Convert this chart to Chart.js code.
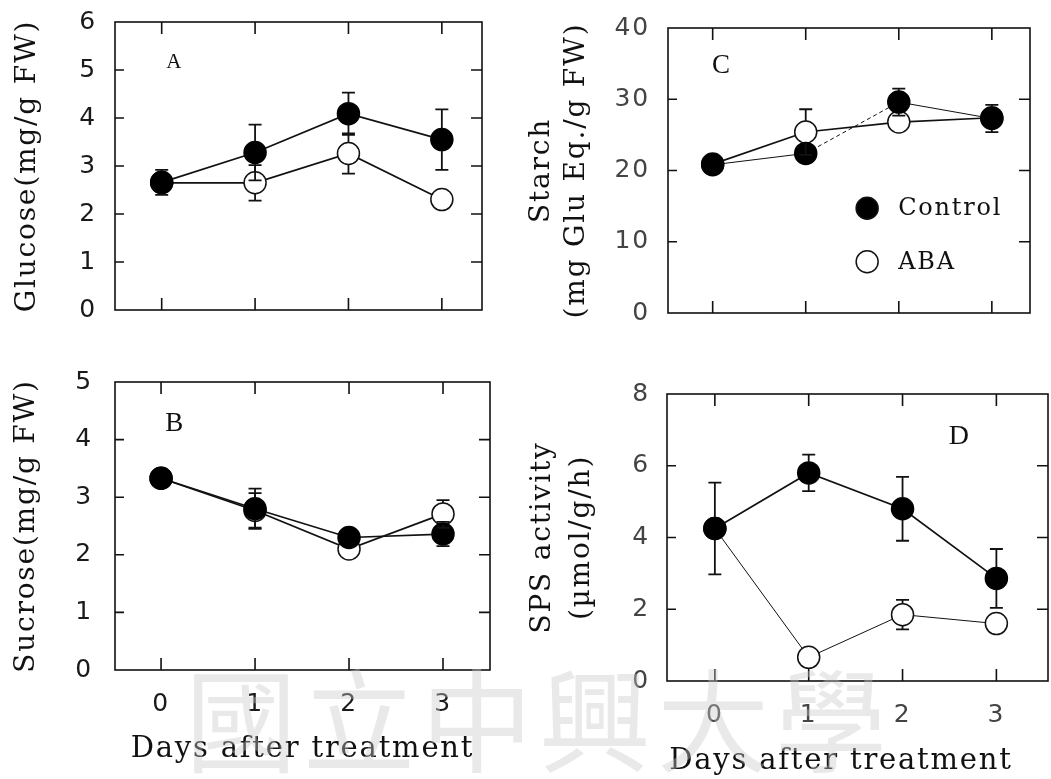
<!DOCTYPE html>
<html>
<head>
<meta charset="utf-8">
<script src="https://cdn.jsdelivr.net/npm/chart.js@4.4.1/dist/chart.umd.min.js"></script>
<style>
  body { margin: 0; background: #fff; }
  #page { position: relative; width: 1051px; height: 779px; overflow: hidden; }
  canvas { position: absolute; }
  .wm {
    position: absolute; left: 185px; top: 634px;
    font: 112px "Noto Sans CJK TC"; letter-spacing: 6px;
    color: rgba(200, 200, 200, 0.4); white-space: nowrap; pointer-events: none;
  }
</style>
</head>
<body>
<div id="page">
  <canvas id="chartA" width="500" height="330" style="left:0;top:0"></canvas>
  <canvas id="chartC" width="531" height="330" style="left:520px;top:0"></canvas>
  <canvas id="chartB" width="500" height="439" style="left:0;top:340px"></canvas>
  <canvas id="chartD" width="531" height="439" style="left:520px;top:340px"></canvas>
  <div class="wm">國立中興大學</div>
</div>
<script>
// Dias após o tratamento (eixo x comum)
const days = [0, 1, 2, 3];

// Painel A - glicose
const glucoseControl = [2.66, 3.28, 4.09, 3.55];
const glucoseControlErr = [0.26, 0.58, 0.44, 0.63];
const glucoseAba = [2.65, 2.65, 3.26, 2.30];
const glucoseAbaErr = [0.12, 0.37, 0.42, 0.08];

// Painel B - sacarose
const sucroseControl = [3.33, 2.80, 2.30, 2.36];
const sucroseControlErr = [0.08, 0.35, 0.12, 0.21];
const sucroseAba = [3.33, 2.77, 2.10, 2.71];
const sucroseAbaErr = [0.08, 0.30, 0.08, 0.24];

// Painel C - amido
const starchControl = [20.8, 22.4, 29.6, 27.3];
const starchControlErr = [0.8, 1.0, 1.9, 1.9];
const starchAba = [20.9, 25.4, 26.8, 27.4];
const starchAbaErr = [0.8, 3.2, 1.2, 1.0];

// Painel D - atividade SPS
const spsControl = [4.25, 5.80, 4.80, 2.86];
const spsControlErr = [1.28, 0.51, 0.89, 0.82];
const spsAba = [4.25, 0.66, 1.85, 1.60];
const spsAbaErr = [0.30, 0.31, 0.41, 0.33];

const seriesNames = ['Control', 'ABA'];

const titleFont = "'DejaVu Serif', serif";
const tickFont = "'DejaVu Sans', sans-serif";
const serifFont = "'Liberation Serif', 'Times New Roman', serif";

const toPoints = vals => days.map((d, i) => ({ x: d, y: vals[i] }));

/**
 * Espaçamento de letras largo, como na fonte de máquina de escrever do original.
 */
const spacingPlugin = {
    id: 'spacing',
    beforeDraw(chart) {
        chart.ctx.letterSpacing = '1.8px';
    }
};

/**
 * Moldura do gráfico com marcas de escala voltadas para dentro.
 */
const framePlugin = {
    id: 'frame',
    beforeDatasetsDraw(chart) {
        const { ctx, chartArea: a, scales: { x, y } } = chart;
        ctx.save();
        ctx.strokeStyle = '#111';
        ctx.lineWidth = 1.6;
        ctx.strokeRect(a.left, a.top, a.width, a.height);
        ctx.beginPath();
        y.ticks.forEach(t => {
            const p = y.getPixelForValue(t.value);
            if (p <= a.top + 1 || p >= a.bottom - 1) return;
            ctx.moveTo(a.left, p); ctx.lineTo(a.left + 9, p);
            ctx.moveTo(a.right, p); ctx.lineTo(a.right - 11, p);
        });
        x.ticks.forEach(t => {
            const p = x.getPixelForValue(t.value);
            ctx.moveTo(p, a.bottom); ctx.lineTo(p, a.bottom - 12);
            ctx.moveTo(p, a.top); ctx.lineTo(p, a.top + 12);
        });
        ctx.stroke();
        ctx.restore();
    }
};

/**
 * Barras de erro desenhadas a partir da borda de cada marcador.
 */
const errorBarPlugin = {
    id: 'errorBars',
    afterDatasetsDraw(chart) {
        const { ctx, scales: { y } } = chart;
        chart.data.datasets.forEach((ds, i) => {
            const meta = chart.getDatasetMeta(i);
            meta.data.forEach((pt, j) => {
                const e = ds.err[j];
                if (!e) return;
                const v = ds.data[j].y;
                const r = ds.pointRadius;
                const ends = [y.getPixelForValue(v + e), y.getPixelForValue(v - e)];
                ctx.save();
                ctx.strokeStyle = '#111';
                ctx.lineWidth = 1.8;
                ends.forEach((end, k) => {
                    if (Math.abs(end - pt.y) <= r + 1) return;
                    const edge = k === 0 ? pt.y - r : pt.y + r;
                    ctx.beginPath();
                    ctx.moveTo(pt.x, edge); ctx.lineTo(pt.x, end);
                    ctx.moveTo(pt.x - 6.5, end); ctx.lineTo(pt.x + 6.5, end);
                    ctx.stroke();
                });
                ctx.restore();
            });
        });
    }
};

/**
 * Letra do painel (A, B, C, D) e legenda opcional, em coordenadas de dados.
 */
const annotationPlugin = {
    id: 'panelNotes',
    afterDraw(chart, args, opts) {
        const { ctx, scales: { x, y } } = chart;
        ctx.save();
        ctx.fillStyle = '#111';
        ctx.textAlign = 'center';
        ctx.textBaseline = 'middle';
        ctx.font = opts.letterFont;
        ctx.fillText(opts.letter, x.getPixelForValue(opts.at[0]), y.getPixelForValue(opts.at[1]));
        if (opts.legend) {
            ctx.font = '24px ' + titleFont;
            ctx.textAlign = 'left';
            chart.data.datasets.forEach((ds, i) => {
                const px = x.getPixelForValue(opts.legend.x);
                const py = y.getPixelForValue(opts.legend.y[i]);
                ctx.beginPath();
                ctx.arc(px, py, ds.pointRadius, 0, Math.PI * 2);
                ctx.fillStyle = ds.pointBackgroundColor;
                ctx.fill();
                ctx.lineWidth = ds.pointBorderWidth;
                ctx.strokeStyle = '#111';
                ctx.stroke();
                ctx.fillStyle = '#111';
                ctx.fillText(ds.label, px + 31, py + 1);
            });
        }
        ctx.restore();
    }
};

function makeDatasets(control, controlErr, aba, abaErr, extra) {
    extra = extra || {};
    return [
        Object.assign({
            label: seriesNames[0],
            data: toPoints(control),
            err: controlErr,
            borderColor: '#111',
            borderWidth: 1.7,
            pointRadius: 11,
            pointBackgroundColor: '#000',
            pointBorderColor: '#000',
            pointBorderWidth: 1.5
        }, extra.control),
        Object.assign({
            label: seriesNames[1],
            data: toPoints(aba),
            err: abaErr,
            borderColor: '#111',
            borderWidth: 1.7,
            pointRadius: 11,
            pointBackgroundColor: '#fff',
            pointBorderColor: '#111',
            pointBorderWidth: 1.5
        }, extra.aba)
    ];
}

// Zera as margens automáticas que o Chart.js reserva para os rótulos
function noPadding(s) {
    s.paddingTop = 0;
    s.paddingBottom = 0;
    s.paddingLeft = 0;
    s.paddingRight = 0;
}

/**
 * Cria um painel com geometria fixa (largura do eixo y, altura do eixo x, margens).
 */
function makePanel(id, cfg) {
    new Chart(document.getElementById(id), {
        type: 'line',
        data: { datasets: cfg.datasets },
        plugins: [spacingPlugin, framePlugin, errorBarPlugin, annotationPlugin],
        options: {
            responsive: false,
            animation: false,
            layout: {
                autoPadding: false,
                padding: { top: cfg.padTop, right: cfg.padRight, left: 0, bottom: 0 }
            },
            plugins: {
                legend: { display: false },
                tooltip: { enabled: false },
                panelNotes: cfg.notes
            },
            scales: {
                x: {
                    type: 'linear',
                    min: cfg.xRange[0],
                    max: cfg.xRange[1],
                    afterBuildTicks: s => { s.ticks = days.map(v => ({ value: v })); },
                    afterFit: s => { s.height = cfg.xHeight; noPadding(s); },
                    grid: { display: false, drawTicks: false },
                    border: { display: false },
                    ticks: {
                        display: cfg.xLabels,
                        padding: 19,
                        color: cfg.tickColor,
                        font: { family: tickFont, size: 25 }
                    },
                    title: {
                        display: cfg.xLabels,
                        // espaços finais deslocam o título um pouco para a esquerda, como no original
                        text: 'Days after treatment' + (cfg.xTitleTrail || ''),
                        color: '#111',
                        font: { family: titleFont, size: 29 },
                        padding: { top: 0, bottom: cfg.xTitlePad }
                    }
                },
                y: {
                    min: 0,
                    max: cfg.yMax,
                    afterBuildTicks: s => { s.ticks = cfg.yTicks.map(v => ({ value: v })); },
                    afterFit: s => { s.width = cfg.yWidth; noPadding(s); },
                    grid: { display: false, drawTicks: false },
                    border: { display: false },
                    ticks: {
                        padding: cfg.yTickPad,
                        color: cfg.tickColor,
                        font: { family: tickFont, size: 25 }
                    },
                    title: {
                        display: true,
                        text: cfg.yTitle,
                        color: '#111',
                        font: { family: titleFont, size: cfg.yTitleSize, lineHeight: cfg.yTitleLine },
                        padding: { top: cfg.yTitlePad, bottom: 0 }
                    }
                }
            }
        }
    });
}

document.addEventListener('DOMContentLoaded', function () {
    makePanel('chartA', {
        datasets: makeDatasets(glucoseControl, glucoseControlErr, glucoseAba, glucoseAbaErr),
        xRange: [-0.5, 3.43], yMax: 6, yTicks: [0, 1, 2, 3, 4, 5, 6], tickColor: '#1a1a1a',
        padTop: 22, padRight: 18, yWidth: 115, xHeight: 20, xLabels: false, xTitlePad: 0,
        yTickPad: 18, yTitle: 'Glucose(mg/g FW)', yTitleSize: 28, yTitleLine: 1.2, yTitlePad: 11,
        notes: { letter: 'A', at: [0.14, 5.15], letterFont: '21px ' + serifFont }
    });

    makePanel('chartC', {
        datasets: makeDatasets(starchControl, starchControlErr, starchAba, starchAbaErr, {
            control: {
                borderWidth: 1,
                segment: { borderDash: c => c.p0DataIndex === 1 ? [4, 3] : undefined }
            }
        }),
        xRange: [-0.48, 3.41], yMax: 40, yTicks: [0, 10, 20, 30, 40], tickColor: '#444',
        padTop: 28, padRight: 21, yWidth: 148, xHeight: 17, xLabels: false, xTitlePad: 0,
        yTickPad: 18, yTitle: ['Starch', '(mg Glu Eq./g FW)'], yTitleSize: 28, yTitleLine: 1.25, yTitlePad: 4,
        notes: {
            letter: 'C', at: [0.1, 34.7], letterFont: '27px ' + serifFont,
            legend: { x: 1.66, y: [14.7, 7.2] }
        }
    });

    makePanel('chartB', {
        datasets: makeDatasets(sucroseControl, sucroseControlErr, sucroseAba, sucroseAbaErr),
        xRange: [-0.49, 3.5], yMax: 5, yTicks: [0, 1, 2, 3, 4, 5], tickColor: '#1a1a1a',
        padTop: 42, padRight: 10, yWidth: 115, xHeight: 109, xLabels: true, xTitlePad: 12,
        yTickPad: 22, yTitle: 'Sucrose(mg/g FW)', yTitleSize: 28, yTitleLine: 1.2, yTitlePad: 10,
        notes: { letter: 'B', at: [0.15, 4.27], letterFont: '27px ' + serifFont }
    });

    makePanel('chartD', {
        datasets: makeDatasets(spsControl, spsControlErr, spsAba, spsAbaErr, {
            aba: { borderWidth: 1 }
        }),
        xRange: [-0.51, 3.55], yMax: 8, yTicks: [0, 2, 4, 6, 8], tickColor: '#444',
        padTop: 54, padRight: 3, yWidth: 147, xHeight: 98, xLabels: true, xTitlePad: 0, xTitleTrail: '   ',
        yTickPad: 17, yTitle: ['SPS activity', '(\u00b5mol/g/h)'], yTitleSize: 28, yTitleLine: 1.4, yTitlePad: 3,
        notes: { letter: 'D', at: [2.61, 6.8], letterFont: '28px ' + serifFont }
    });
});
</script>
</body>
</html>
